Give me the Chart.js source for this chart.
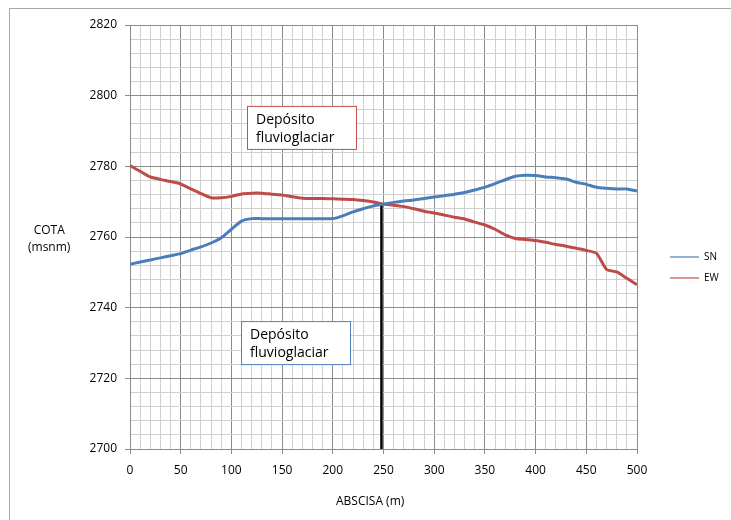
<!DOCTYPE html>
<html>
<head>
<meta charset="utf-8">
<script src="https://cdn.jsdelivr.net/npm/chart.js@4"></script>
<style>
  body { margin: 0; background: #fff; font-family: "Open Sans", sans-serif; }
  #wrap { position: relative; width: 731px; height: 520px; }
  #frame { position: absolute; left: 9px; top: 8px; width: 740px; height: 540px;
           border-left: 1px solid #a6a6a6; border-top: 1px solid #a6a6a6; }
  canvas { position: absolute; left: 0; top: 0; }
  .lbl { position: absolute; font-size: 12px; color: #000; }
  #ytitle { left: 28px; top: 221px; text-align: center; line-height: 17px; }
  #xtitle { left: 336px; top: 492px; }
  .leg { position: absolute; left: 670px; font-size: 10px; }
  .leg span { display: inline-block; width: 29px; height: 2px; vertical-align: middle; margin-right: 5px; }
</style>
</head>
<body>
<div id="wrap">
  <div id="frame"></div>
  <canvas id="chart" width="731" height="520"></canvas>
  <div class="lbl" id="ytitle">COTA<br>(msnm)</div>
  <div class="lbl" id="xtitle">ABSCISA (m)</div>
  <div class="leg" style="top:249px"><span style="background:#95b3d7"></span>SN</div>
  <div class="leg" style="top:270px"><span style="background:#d99694"></span>EW</div>
</div>
<script>
// === data ===
const abscisa = [0,10,20,30,40,50,60,70,80,90,100,110,120,130,140,150,160,170,180,190,200,
  210,220,230,240,250,260,270,280,290,300,310,320,330,340,350,360,370,380,390,400,
  410,420,430,440,450,460,470,480,490,500];

const cotaSN = [2752.3,2752.9,2753.5,2754.1,2754.7,2755.3,2756.3,2757.2,2758.3,2759.8,2762.2,
  2764.5,2765.2,2765.2,2765.2,2765.2,2765.2,2765.2,2765.2,2765.2,2765.2,
  2766.0,2767.1,2768.0,2768.8,2769.3,2769.8,2770.2,2770.5,2770.9,2771.3,
  2771.7,2772.1,2772.6,2773.3,2774.1,2775.1,2776.2,2777.2,2777.5,2777.4,
  2777.0,2776.8,2776.4,2775.5,2774.9,2774.1,2773.8,2773.6,2773.6,2773.0];

const cotaEW = [2780.2,2778.6,2777.0,2776.3,2775.7,2775.0,2773.6,2772.3,2771.1,2771.1,2771.5,
  2772.2,2772.4,2772.4,2772.1,2771.9,2771.4,2771.0,2770.9,2770.9,2770.8,
  2770.7,2770.6,2770.3,2769.9,2769.3,2769.0,2768.6,2768.0,2767.3,2766.8,
  2766.2,2765.6,2765.1,2764.2,2763.4,2762.2,2760.6,2759.6,2759.3,2759.0,
  2758.5,2757.9,2757.4,2756.8,2756.2,2755.4,2750.8,2750.1,2748.3,2746.5];

// vertical contact line
const contactX = [248, 248];
const contactY = [2700, 2769];

const xMin = 0, xMax = 500, xMajor = 50, xMinor = 10;
const yMin = 2700, yMax = 2820, yMajor = 20, yMinor = 4;

// text boxes, anchored at data coordinates (top-left)
const notes = [
  { x: 115.4, y: 2797.1, text: ['Depósito', 'fluvioglaciar'], border: '#c0504d' },
  { x: 109.5, y: 2736.2, text: ['Depósito', 'fluvioglaciar'], border: '#4f81bd' }
];

const pts = (xs, ys) => xs.map((x, i) => ({ x: x, y: ys[i] }));

const isMajor = (v, base, step) => Math.abs(((v - base) % step)) < 1e-6;

const notesPlugin = {
  id: 'notes',
  afterDatasetsDraw(chart) {
    const ctx = chart.ctx, xs = chart.scales.x, ys = chart.scales.y;
    ctx.save();
    notes.forEach(n => {
      const left = xs.getPixelForValue(n.x), top = ys.getPixelForValue(n.y);
      const w = 109, h = 43;
      ctx.fillStyle = '#fff';
      ctx.fillRect(left, top, w, h);
      ctx.strokeStyle = n.border;
      ctx.lineWidth = 1;
      ctx.strokeRect(left + 0.5, top + 0.5, w, h);
      ctx.fillStyle = '#000';
      ctx.font = '14px "Open Sans", sans-serif';
      ctx.textBaseline = 'middle';
      ctx.fillText(n.text[0], left + 9, top + 14);
      ctx.fillText(n.text[1], left + 9, top + 32);
    });
    ctx.restore();
  }
};

new Chart(document.getElementById('chart'), {
  type: 'line',
  data: {
    datasets: [
      { label: 'SN', data: pts(abscisa, cotaSN), borderColor: '#4a7ebb', borderWidth: 3,
        pointRadius: 0, tension: 0.2, fill: false },
      { label: 'EW', data: pts(abscisa, cotaEW), borderColor: '#be4b48', borderWidth: 3,
        pointRadius: 0, tension: 0.2, fill: false },
      { label: 'contacto', data: pts(contactX, contactY), borderColor: '#000', borderWidth: 2.5,
        pointRadius: 0, fill: false }
    ]
  },
  options: {
    responsive: false,
    animation: false,
    layout: { padding: { left: 0, top: 25, right: 94, bottom: 0 } },
    plugins: { legend: { display: false }, tooltip: { enabled: false } },
    scales: {
      x: {
        type: 'linear', min: xMin, max: xMax,
        afterFit: s => { s.height = 71; },
        afterBuildTicks: s => {
          s.ticks = [];
          for (let v = xMin; v <= xMax; v += xMinor) s.ticks.push({ value: v });
        },
        ticks: {
          autoSkip: false, maxRotation: 0, padding: 9, color: '#000',
          font: { family: '"Open Sans", sans-serif', size: 12 },
          callback: v => isMajor(v, xMin, xMajor) ? v : ''
        },
        grid: {
          tickLength: 5,
          color: c => isMajor(c.tick.value, xMin, xMajor) ? '#8c8c8c' : '#d0d0d0',
          tickColor: c => isMajor(c.tick.value, xMin, xMajor) ? '#8c8c8c' : 'rgba(0,0,0,0)'
        },
        border: { color: '#8c8c8c' }
      },
      y: {
        min: yMin, max: yMax,
        afterFit: s => { s.width = 130; },
        afterBuildTicks: s => {
          s.ticks = [];
          for (let v = yMin; v <= yMax; v += yMinor) s.ticks.push({ value: v });
        },
        ticks: {
          autoSkip: false, padding: 8, color: '#000',
          font: { family: '"Open Sans", sans-serif', size: 12 },
          callback: v => isMajor(v, yMin, yMajor) ? v : ''
        },
        grid: {
          tickLength: 5,
          color: c => isMajor(c.tick.value, yMin, yMajor) ? '#8c8c8c' : '#d0d0d0',
          tickColor: c => isMajor(c.tick.value, yMin, yMajor) ? '#8c8c8c' : 'rgba(0,0,0,0)'
        },
        border: { color: '#8c8c8c' }
      }
    }
  },
  plugins: [notesPlugin]
});
</script>
</body>
</html>
